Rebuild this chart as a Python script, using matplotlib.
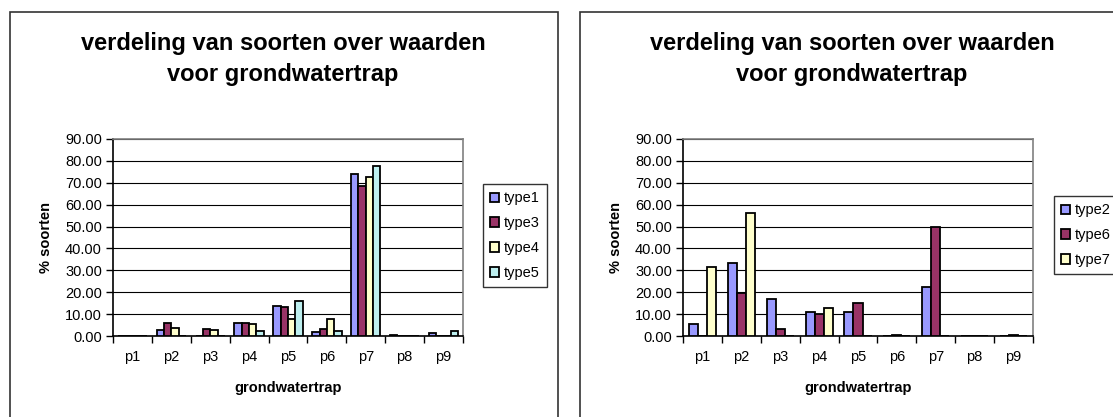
import matplotlib
matplotlib.use("Agg")
import matplotlib.pyplot as plt
from matplotlib.patches import Rectangle
import numpy as np

plt.rcParams['font.family'] = ['Liberation Sans', 'DejaVu Sans']

categories = ['p1', 'p2', 'p3', 'p4', 'p5', 'p6', 'p7', 'p8', 'p9']
yticks = [0, 10, 20, 30, 40, 50, 60, 70, 80, 90]
title_text = 'verdeling van soorten over waarden\nvoor grondwatertrap'
xlabel_text = 'grondwatertrap'
ylabel_text = '% soorten'

# left chart series
left_names = ['type1', 'type3', 'type4', 'type5']
type1 = [0.0, 2.6, 0.2, 6.1, 13.9, 1.8, 74.1, 0.3, 1.5]
type3 = [0.0, 6.1, 3.2, 5.8, 13.3, 3.2, 68.6, 0.0, 0.0]
type4 = [0.0, 3.7, 2.7, 5.3, 7.9, 7.9, 72.6, 0.0, 0.0]
type5 = [0.0, 0.0, 0.0, 2.3, 15.9, 2.3, 77.5, 0.0, 2.3]

# right chart series
right_names = ['type2', 'type6', 'type7']
type2 = [5.6, 33.4, 16.8, 11.0, 11.0, 0.0, 22.4, 0.0, 0.0]
type6 = [0.0, 19.5, 3.4, 10.2, 15.1, 0.4, 49.6, 0.0, 0.4]
type7 = [31.3, 56.3, 0.0, 12.7, 0.0, 0.0, 0.0, 0.0, 0.0]

c1 = '#9999FF'
c2 = '#993366'
c3 = '#FFFFCC'
c4 = '#BDEFEF'

W, H = 1113, 417
fig = plt.figure(figsize=(W / 100, H / 100), dpi=100)


def fx(px):
    return px / W


def fy(py):
    return 1 - py / H


def panel(x0, x1):
    r = Rectangle((fx(x0), fy(440)), fx(x1) - fx(x0), fy(12) - fy(440),
                  transform=fig.transFigure, fill=False, edgecolor='#333333',
                  linewidth=1.2, clip_on=False)
    fig.patches.append(r)


def chart(ax_px, series, names, colors, title_x, legend_box):
    x0, x1, y0, y1 = ax_px
    ax = fig.add_axes([fx(x0), fy(y1), fx(x1) - fx(x0), fy(y0) - fy(y1)])
    n = len(series)
    x = np.arange(len(categories))
    bw = 1.0 / (n + 1.3)
    handles = []
    for i, (vals, name, col) in enumerate(zip(series, names, colors)):
        off = (i - (n - 1) / 2) * bw
        b = ax.bar(x + off, vals, width=bw, color=col, edgecolor='black',
                   linewidth=1.3, label=name, zorder=3)
        handles.append(b)
    ax.set_xlim(-0.5, len(categories) - 0.5)
    ax.set_ylim(0, 90)
    ax.set_yticks(yticks)
    ax.set_yticklabels(['%.2f' % v for v in yticks], fontsize=10.5)
    ax.yaxis.grid(True, color='black', linewidth=0.8, zorder=0)
    ax.set_axisbelow(True)
    ax.set_xticks(x)
    ax.set_xticklabels(categories, fontsize=10.5)
    ax.set_xticks(np.arange(-0.5, len(categories)), minor=True)
    ax.tick_params(axis='x', which='major', length=0, pad=10)
    ax.tick_params(axis='x', which='minor', length=5, width=1, direction='out')
    ax.tick_params(axis='y', length=5, width=1, direction='out', pad=3)
    for s in ['top', 'right']:
        ax.spines[s].set_color('#808080')
        ax.spines[s].set_linewidth(1.2)
    for s in ['left', 'bottom']:
        ax.spines[s].set_color('black')
        ax.spines[s].set_linewidth(1.2)
    ax.set_xlabel(xlabel_text, fontsize=10.5, fontweight='bold', labelpad=12)
    ax.set_ylabel(ylabel_text, fontsize=10.5, fontweight='bold', labelpad=9)
    fig.text(fx(title_x), fy(59), title_text, ha='center', va='center',
             fontsize=17, fontweight='bold', linespacing=1.4)
    lx0, lx1, ly0, ly1 = legend_box
    leg = fig.legend(handles=handles, labels=names, loc='upper left',
                     bbox_to_anchor=(fx(lx0), fy(ly0)),
                     bbox_transform=fig.transFigure, fontsize=10.5,
                     frameon=True, fancybox=False, edgecolor='black',
                     handlelength=0.6, handleheight=0.6, handletextpad=0.3,
                     labelspacing=0.75, borderpad=0.5, borderaxespad=0)
    leg.get_frame().set_linewidth(1.0)
    for h in leg.legend_handles:
        h.set_linewidth(1.3)
    return ax


panel(10, 558)
panel(580, 1126)

chart((113, 463, 139, 336), [type1, type3, type4, type5], left_names,
      [c1, c2, c3, c4], 283, (483, 549, 184, 290))
chart((683, 1033, 139, 336), [type2, type6, type7], right_names,
      [c1, c2, c3], 852, (1054, 1125, 196, 282))

fig.savefig('out.png', dpi=100)
